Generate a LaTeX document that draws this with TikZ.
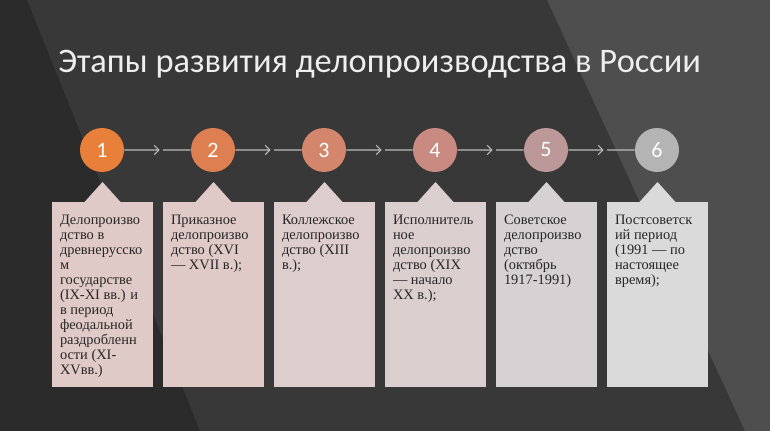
\documentclass[tikz,border=0pt]{standalone}
\usepackage{fontspec}
\setmainfont{Liberation Serif}
\newfontfamily\titlefont{Carlito}
\usetikzlibrary{calc,arrows.meta}
\definecolor{bg}{HTML}{383838}
\definecolor{bgdark}{HTML}{2B2B2B}
\definecolor{bglight}{HTML}{4E4E4E}
\definecolor{titlec}{HTML}{EEEEEE}
\definecolor{linkc}{HTML}{BDBDBD}
\definecolor{txt}{HTML}{262626}
\definecolor{col1}{HTML}{E8803A}
\definecolor{col2}{HTML}{DE7F51}
\definecolor{col3}{HTML}{D4866C}
\definecolor{col4}{HTML}{C98B81}
\definecolor{col5}{HTML}{BC9898}
\definecolor{col6}{HTML}{B4B4B4}
\definecolor{box1}{HTML}{E0CAC7}
\definecolor{box2}{HTML}{DFCAC8}
\definecolor{box3}{HTML}{DDCDCC}
\definecolor{box4}{HTML}{DACECF}
\definecolor{box5}{HTML}{D6D1D2}
\definecolor{box6}{HTML}{DADADA}
\begin{document}
\begin{tikzpicture}[x=0.75pt,y=-0.75pt,
  stage/.style={circle,minimum size=33pt,inner sep=0pt,text=white,font=\titlefont\fontsize{16.5}{18}\selectfont},
  panel/.style={anchor=north,minimum width=75.75pt,minimum height=138.75pt,inner sep=0pt},
  paneltext/.style={anchor=north west,inner sep=0pt,align=left,text=txt,font=\fontsize{10.8}{11.25}\selectfont},
  link/.style={draw=linkc,line width=0.8pt},
  tip/.style={-{Straight Barb[length=3.5pt,width=7pt]}}]
\fill[bg] (0,0) rectangle (770,431);
\fill[bgdark] (0,0) -- (27,0) -- (200,431) -- (0,431) -- cycle;
\fill[bglight] (547,0) -- (770,0) -- (770,431) -- (745,431) -- cycle;
\useasboundingbox (0,0) rectangle (770,431);

\node[anchor=base west,inner sep=0pt,text=titlec,font=\titlefont\fontsize{25.8}{30}\selectfont] (title) at (58,73) {Этапы развития делопроизводства в России};

\node[stage,fill=col1] (s1) at (102,150) {1};
\node[stage,fill=col2] (s2) at (213,150) {2};
\node[stage,fill=col3] (s3) at (324,150) {3};
\node[stage,fill=col4] (s4) at (435,150) {4};
\node[stage,fill=col5] (s5) at (546,150) {5};
\node[stage,fill=col6] (s6) at (657,150) {6};

\draw[link,tip] (s1) -- ($(s1)!0.52!(s2)$);
\draw[link] ($(s1)!0.55!(s2)$) -- (s2);
\draw[link,tip] (s2) -- ($(s2)!0.52!(s3)$);
\draw[link] ($(s2)!0.55!(s3)$) -- (s3);
\draw[link,tip] (s3) -- ($(s3)!0.52!(s4)$);
\draw[link] ($(s3)!0.55!(s4)$) -- (s4);
\draw[link,tip] (s4) -- ($(s4)!0.52!(s5)$);
\draw[link] ($(s4)!0.55!(s5)$) -- (s5);
\draw[link,tip] (s5) -- ($(s5)!0.52!(s6)$);
\draw[link] ($(s5)!0.55!(s6)$) -- (s6);

\node[panel,fill=box1] (p1) at (102.5,202) {};
\node[panel,fill=box2] (p2) at (213.5,202) {};
\node[panel,fill=box3] (p3) at (324.5,202) {};
\node[panel,fill=box4] (p4) at (435.5,202) {};
\node[panel,fill=box5] (p5) at (546.5,202) {};
\node[panel,fill=box6] (p6) at (657.5,202) {};
\fill[box1] ($(p1.north)+(-18,0)$) -- ($(p1.north)+(0,-20)$) -- ($(p1.north)+(18,0)$) -- cycle;
\fill[box2] ($(p2.north)+(-18,0)$) -- ($(p2.north)+(0,-20)$) -- ($(p2.north)+(18,0)$) -- cycle;
\fill[box3] ($(p3.north)+(-18,0)$) -- ($(p3.north)+(0,-20)$) -- ($(p3.north)+(18,0)$) -- cycle;
\fill[box4] ($(p4.north)+(-18,0)$) -- ($(p4.north)+(0,-20)$) -- ($(p4.north)+(18,0)$) -- cycle;
\fill[box5] ($(p5.north)+(-18,0)$) -- ($(p5.north)+(0,-20)$) -- ($(p5.north)+(18,0)$) -- cycle;
\fill[box6] ($(p6.north)+(-18,0)$) -- ($(p6.north)+(0,-20)$) -- ($(p6.north)+(18,0)$) -- cycle;

\node[paneltext] (t1) at ($(p1.north west)+(8,13)$) {Делопроизво\\дство в\\древнерусско\\м\\государстве\\(IX-XI вв.) и\\в период\\феодальной\\раздробленн\\ости (XI-\\XVвв.)};
\node[paneltext] (t2) at ($(p2.north west)+(8,13)$) {Приказное\\делопроизво\\дство (XVI\\— XVII в.);};
\node[paneltext] (t3) at ($(p3.north west)+(8,13)$) {Коллежское\\делопроизво\\дство (XIII\\в.);};
\node[paneltext] (t4) at ($(p4.north west)+(8,13)$) {Исполнитель\\ное\\делопроизво\\дство (XIX\\— начало\\XX в.);};
\node[paneltext] (t5) at ($(p5.north west)+(8,13)$) {Советское\\делопроизво\\дство\\(октябрь\\1917-1991)};
\node[paneltext] (t6) at ($(p6.north west)+(8,13)$) {Постсоветск\\ий период\\(1991 — по\\настоящее\\время);};
\end{tikzpicture}
\end{document}
